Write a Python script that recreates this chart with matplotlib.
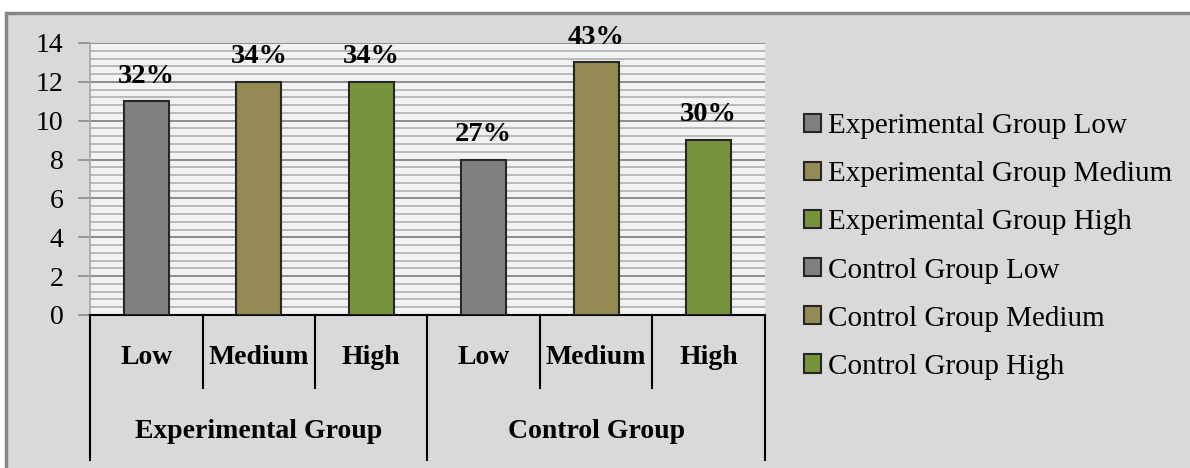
import matplotlib
matplotlib.use('Agg')
import matplotlib.pyplot as plt
from matplotlib.patches import Rectangle

plt.rcParams['font.family'] = ['Liberation Serif', 'DejaVu Serif']

levels = ['Low', 'Medium', 'High', 'Low', 'Medium', 'High']
groups = ['Experimental Group', 'Control Group']
counts = [11, 12, 12, 8, 13, 9]
pct_labels = ['32%', '34%', '34%', '27%', '43%', '30%']
series_names = ['Experimental Group Low', 'Experimental Group Medium', 'Experimental Group High',
                'Control Group Low', 'Control Group Medium', 'Control Group High']
colors = ['#808080', '#948A54', '#77933C', '#808080', '#948A54', '#77933C']

fig = plt.figure(figsize=(11.9, 4.68), dpi=100)
fig.patch.set_facecolor('white')
# outer chart area
fig.patches.append(Rectangle((6/1190, -0.01), 1.0, 1 - 13/468 + 0.01, transform=fig.transFigure,
                             facecolor='#D9D9D9', edgecolor='#868686', linewidth=2.5, zorder=-10))

ax = fig.add_axes([90/1190, 1 - 315/468, 675/1190, 272/468])
ax.set_facecolor('#F2F2F2')

x = list(range(len(counts)))
for i in x:
    ax.bar(i, counts[i], width=0.4, color=colors[i], edgecolor='#262626', linewidth=1.5,
           label=series_names[i], zorder=3)
    ax.annotate(pct_labels[i], (i, counts[i]), xytext=(0, 13.5), textcoords='offset points',
                ha='center', va='baseline', fontsize=20.5, fontweight='bold', zorder=4)

ax.set_xlim(-0.5, 5.5)
ax.set_ylim(0, 14)
ax.set_yticks(range(0, 15, 2))
ax.set_yticks([v * 0.4 for v in range(36)], minor=True)
ax.grid(axis='y', which='minor', color='#B4B4B4', linewidth=1.3, zorder=1)
ax.grid(axis='y', which='major', color='#8C8C8C', linewidth=1.4, zorder=2)
ax.tick_params(axis='y', which='major', labelsize=20, length=9, width=1.2, color='#8C8C8C', pad=10)
ax.tick_params(axis='y', which='minor', length=0)
ax.set_xticks([])

for s in ['top', 'right']:
    ax.spines[s].set_visible(False)
ax.spines['left'].set_color('#A6A6A6')
ax.spines['left'].set_linewidth(1.2)
ax.spines['bottom'].set_color('black')
ax.spines['bottom'].set_linewidth(1.5)

# multi-level category axis
tr = ax.get_xaxis_transform()
for k in range(len(levels) + 1):
    xx = k - 0.5
    bottom = -0.533 if k % 3 == 0 else -0.268
    ax.plot([xx, xx], [0, bottom], color='black', lw=1.5, transform=tr, clip_on=False)
for i, lab in enumerate(levels):
    ax.text(i, -0.158, lab, transform=tr, ha='center', va='center', fontsize=20, fontweight='bold')
for g, name in enumerate(groups):
    ax.text(3 * g + 1, -0.43, name, transform=tr, ha='center', va='center', fontsize=20,
            fontweight='bold')

leg = ax.legend(loc='upper left', bbox_to_anchor=(804/1190, 1 - 113/468),
                bbox_transform=fig.transFigure, frameon=False, fontsize=21,
                handlelength=0.58, handleheight=0.58, handletextpad=0.25, labelspacing=0.76,
                borderpad=0, borderaxespad=0)

fig.savefig('out.png', dpi=100)
